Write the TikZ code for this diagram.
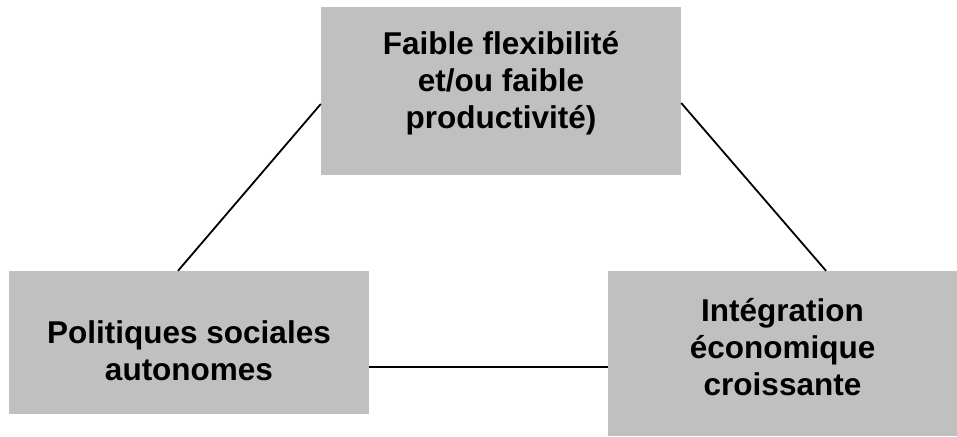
\documentclass[tikz,border=0pt]{standalone}
\usepackage{fontspec}
\setmainfont{Liberation Sans}
\usepackage{tikz}
\usetikzlibrary{calc}
\definecolor{boxgray}{HTML}{C0C0C0}

\begin{document}
\begin{tikzpicture}[x=1pt, y=-1pt,
box/.style={fill=boxgray, draw=none, rectangle, inner sep=0pt},
label/.style={align=center, anchor=base, inner sep=0pt, font=\bfseries\fontsize{31.5}{37}\selectfont},
link/.style={line width=1.8pt}]

\useasboundingbox (0,0) rectangle (957,436);

\node (faible) [box, minimum width=360pt, minimum height=168pt] at (501,91) {};
\node (polit) [box, minimum width=360pt, minimum height=143pt] at (189,342.5) {};
\node (integ) [box, minimum width=349pt, minimum height=165pt] at (782.5,353.5) {};

% base = baseline of the last line
\node (tfaible) [label] at (501,128) {Faible flexibilité\\et/ou faible\\productivité)};
\node (tpolit) [label] at (189,380) {Politiques sociales\\autonomes};
\node (tinteg) [label] at (782.5,395) {Intégration\\économique\\croissante};

\draw[link] ([yshift=-13pt]faible.west) -- ([xshift=-11pt]polit.north);
\draw[link] ([yshift=-12pt]faible.east) -- ([xshift=43.5pt]integ.north);
\draw[link] ([yshift=-24.5pt]polit.east) -- ([yshift=-24.5pt]polit.east -| integ.west);

\end{tikzpicture}
\end{document}
